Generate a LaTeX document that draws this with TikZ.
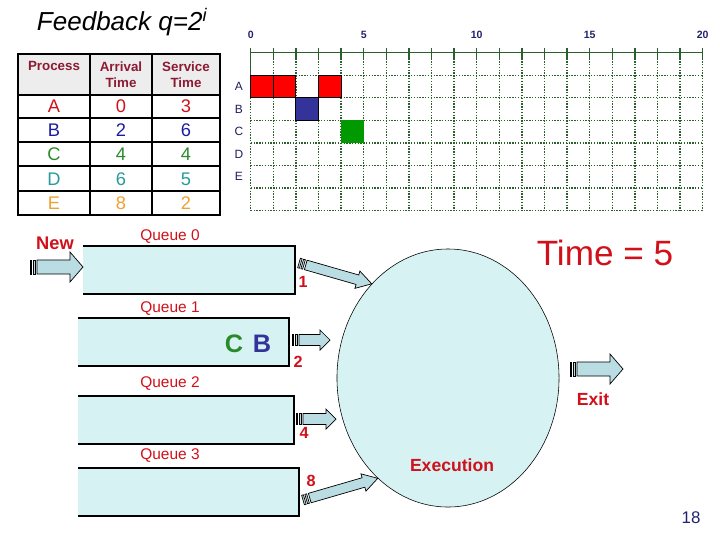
\documentclass[tikz,border=0pt]{standalone}
\usepackage{fontspec}
\setmainfont{Liberation Sans}
\usetikzlibrary{calc,shapes.geometric}

\definecolor{qfill}{HTML}{D6F2F2}
\definecolor{arrfill}{HTML}{B9DDE2}
\definecolor{hdgray}{HTML}{EDEDED}
\definecolor{redtxt}{HTML}{D0101A}
\definecolor{hdred}{HTML}{8C1A32}
\definecolor{bluetxt}{HTML}{1C1CA0}
\definecolor{greentxt}{HTML}{2A8A2A}
\definecolor{tealtxt}{HTML}{2A9A9A}
\definecolor{orangetxt}{HTML}{F0A030}
\definecolor{gridgreen}{HTML}{2D5E2D}
\definecolor{navytxt}{HTML}{22226E}
\definecolor{barblue}{HTML}{333399}
\definecolor{bargreen}{HTML}{009A00}

% block arrow with striped tail: tail, tip, shaft half width, head half width, head length
\newcommand{\fatarrow}[5]{%
  \coordinate (#1-a) at ($(#1)!1.3pt!(#2)$);
  \coordinate (#1-b) at ($(#1)!2.4pt!(#2)$);
  \coordinate (#1-c) at ($(#1)!3.7pt!(#2)$);
  \coordinate (#1-d) at ($(#1)!5pt!(#2)$);
  \coordinate (#1-h) at ($(#2)!#5!(#1)$);
  \filldraw[arrowbody] ($(#1)!#3!90:(#2)$) -- ($(#1-a)!#3!90:(#2)$) -- ($(#1-a)!#3!-90:(#2)$) -- ($(#1)!#3!-90:(#2)$) -- cycle;
  \filldraw[arrowbody] ($(#1-b)!#3!90:(#2)$) -- ($(#1-c)!#3!90:(#2)$) -- ($(#1-c)!#3!-90:(#2)$) -- ($(#1-b)!#3!-90:(#2)$) -- cycle;
  \filldraw[arrowbody] ($(#1-d)!#3!90:(#2)$) -- ($(#1-h)!#3!90:(#2)$) -- ($(#1-h)!#4!90:(#2)$) -- (#2)
    -- ($(#1-h)!#4!-90:(#2)$) -- ($(#1-h)!#3!-90:(#2)$) -- ($(#1-d)!#3!-90:(#2)$) -- cycle;
}

\begin{document}
\begin{tikzpicture}
	[x=0.025cm, y=-0.025cm,
	 qbox/.style={shape=rectangle, fill=qfill, draw=none, inner sep=0pt, outer sep=0pt, minimum height=1.2cm},
	 qedge/.style={line width=1.6pt, line join=miter},
	 qlabel/.style={text=redtxt, font=\fontsize{11}{13}\selectfont},
	 numlbl/.style={text=redtxt, font=\bfseries\fontsize{11.5}{13}\selectfont},
	 bigred/.style={text=redtxt, font=\bfseries\fontsize{12.5}{14}\selectfont},
	 arrowbody/.style={fill=arrfill, draw=black, line width=0.5pt},
	 hdcell/.style={text=hdred, font=\bfseries\fontsize{9.5}{11.3}\selectfont, align=center},
	 tabcell/.style={font=\fontsize{13}{15}\selectfont},
	 tabline/.style={line width=1.3pt},
	 gridline/.style={gridgreen, dash pattern=on 1pt off 1pt, line width=0.9pt},
	 axisline/.style={gridgreen, line width=1.1pt},
	 ticklbl/.style={text=navytxt, font=\bfseries\fontsize{7.5}{9}\selectfont},
	 rowlbl/.style={text=navytxt!85!black, font=\fontsize{8.5}{10}\selectfont},
	 bar/.style={draw=black, line width=0.7pt}]
	\useasboundingbox (0,0) rectangle (720,540);

	% title
	\node[anchor=base west, font=\itshape\fontsize{18.5}{20}\selectfont] (title) at (32,30) {Feedback q=2\textsuperscript{i}};

	% process table
	\fill[hdgray] (18,54) rectangle (220,95);
	\draw[tabline] (18,54) rectangle (220,215);
	\foreach \yy in {95,118,142,166,191}
		\draw[tabline] (18,\yy) -- (220,\yy);
	\foreach \xx in {90,152}
		\draw[tabline] (\xx,54) -- (\xx,215);
	\node[hdcell] (hproc) at (54,66) {Process};
	\node[hdcell] (harr) at (121,74.5) {Arrival\\Time};
	\node[hdcell] (hsrv) at (186,74.5) {Service\\Time};
	\foreach \p/\a/\s/\col [count=\r from 0] in {A/0/3/redtxt, B/2/6/bluetxt, C/4/4/greentxt, D/6/5/tealtxt, E/8/2/orangetxt}{
		\node[tabcell, text=\col] (p\p) at (54,106.5+24.1*\r) {\p};
		\node[tabcell, text=\col] (a\p) at (121,106.5+24.1*\r) {\a};
		\node[tabcell, text=\col] (s\p) at (186,106.5+24.1*\r) {\s};
	}

	% gantt chart
	\begin{scope}[shift={(250.7,52.7)}, xscale=22.6, yscale=22.55]
		\foreach \r in {1,...,7}
			\draw[gridline] (0,\r) -- (20,\r);
		\foreach \c in {1,...,20}
			\draw[gridline] (\c,0) -- (\c,7);
		\draw[axisline] (0,0) -- (0,1);
		\draw[gridline] (0,1) -- (0,7);
		\draw[axisline] (0,0) -- (20,0);
		\foreach \c in {0,...,20}
			\draw[axisline] (\c,-0.2) -- (\c,0.25);
		\foreach \c in {0,5,...,20}
			\node[ticklbl] (tk\c) at (\c,-0.78) {\c};
		\foreach \p [count=\r] in {A,B,C,D,E}
			\node[rowlbl] (row\p) at (-0.52,\r+0.5) {\p};
		\filldraw[bar, fill=red] (0,1) rectangle (1,2);
		\filldraw[bar, fill=red] (1,1) rectangle (2,2);
		\filldraw[bar, fill=red] (3,1) rectangle (4,2);
		\filldraw[bar, fill=barblue] (2,2) rectangle (3,3);
		\fill[bargreen] (4,3) rectangle (5,4);
	\end{scope}

	% queues
	\node[qbox, minimum width=5.3cm] (q0) at (189,270) {};
	\node[qbox, minimum width=5.275cm] (q1) at (183.5,342) {};
	\node[qbox, minimum width=5.4cm] (q2) at (186,420) {};
	\node[qbox, minimum width=5.525cm] (q3) at (188.5,492) {};
	\foreach \q in {q0,q1,q2,q3}
		\draw[qedge] (\q.north west) -- (\q.north east) -- (\q.south east) -- (\q.south west);
	\node[qlabel] (ql0) at (170,237) {Queue 0};
	\node[qlabel] (ql1) at (170,309) {Queue 1};
	\node[qlabel] (ql2) at (170,384) {Queue 2};
	\node[qlabel] (ql3) at (170,456) {Queue 3};
	\node[text=greentxt, font=\bfseries\fontsize{18}{20}\selectfont] (wC) at (234,344) {C};
	\node[text=barblue, font=\bfseries\fontsize{18}{20}\selectfont] (wB) at (262,344) {B};
	\node[text=redtxt, font=\bfseries\fontsize{13}{15}\selectfont] (newlbl) at (55,243) {New};

	% processor
	\node[ellipse, draw, line width=0.4pt, fill=qfill, minimum width=5.55cm, minimum height=6.45cm, inner sep=0pt] (exec) at (448,378) {};
	\node[bigred] (execlbl) at (452,465) {Execution};
	\node[bigred] (exitlbl) at (593,399) {Exit};
	\node[text=redtxt, font=\fontsize{25}{28}\selectfont] (clock) at (605,253) {Time = 5};
	\node[text=navytxt, font=\fontsize{12}{14}\selectfont] (page) at (691,518) {18};

	% arrows
	\coordinate (newT) at (30,267);
	\coordinate (newH) at (83,267);
	\coordinate (t1) at (299,263);
	\coordinate (h1) at (exec.129);
	\coordinate (t2) at (292,340);
	\coordinate (h2) at (330,340);
	\coordinate (t4) at (296,419);
	\coordinate (h4) at (336,419);
	\coordinate (t8) at (303,500);
	\coordinate (h8) at (exec.235);
	\coordinate (exT) at (570,369);
	\coordinate (exH) at (623,369);
	\fatarrow{newT}{newH}{5pt}{10.6pt}{9.2pt}
	\fatarrow{t1}{h1}{3.5pt}{6.4pt}{10.6pt}
	\fatarrow{t2}{h2}{3.9pt}{7.1pt}{7.1pt}
	\fatarrow{t4}{h4}{3.9pt}{7.1pt}{7.1pt}
	\fatarrow{t8}{h8}{3.5pt}{6.4pt}{10.6pt}
	\fatarrow{exT}{exH}{5pt}{10.6pt}{9.2pt}
	\node[numlbl] (n1) at (303,282) {1};
	\node[numlbl] (n2) at (298,362) {2};
	\node[numlbl] (n4) at (304,433) {4};
	\node[numlbl] (n8) at (311,481) {8};
\end{tikzpicture}
\end{document}
